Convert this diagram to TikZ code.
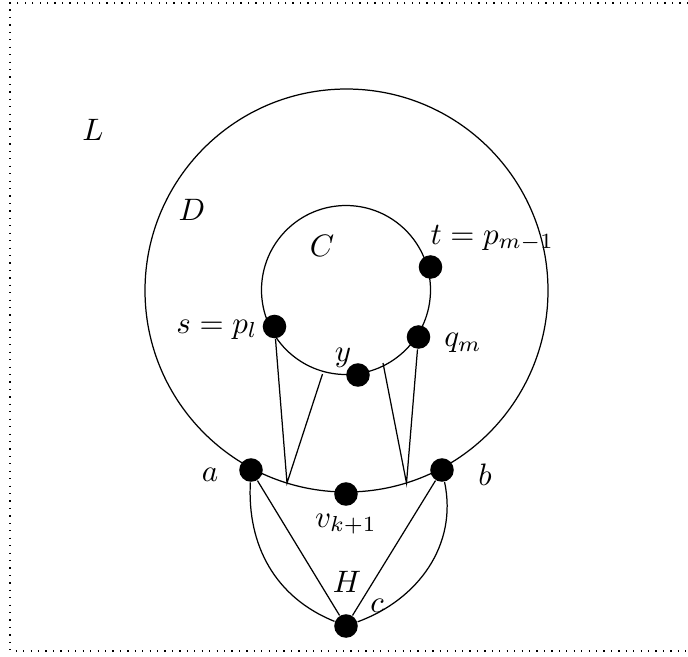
\documentclass[tikz,border=0pt]{standalone}
\begin{document}
\begin{tikzpicture}[x=0.3226pt,y=-0.3226pt,
  vtx/.style={circle,fill=black,inner sep=0pt,minimum size=7.6pt},
  lbl/.style={inner sep=0pt}]
\useasboundingbox (0,0) rectangle (688,656);
\draw[dotted] (688,3) -- (10,3) -- (10,651) -- (688,651);
% circles
\coordinate (oc) at (346.5,290.5);
\coordinate (ic) at (346,290);
\draw (oc) circle[radius=201.5];
\draw (ic) circle[radius=84.5];
% vertices
\node[vtx] (s) at (274.5,326.5) {};
\node[vtx] (t) at (430.5,267) {};
\node[vtx] (q) at (418.5,337) {};
\node[vtx] (y) at (358,375) {};
\node[vtx] (a) at (251,470) {};
\node[vtx] (b) at (442,470) {};
\node[vtx] (v) at (346,494) {};
\node[vtx] (c) at (346,626) {};
% free ends
\coordinate (p1) at (287,483);
\coordinate (p2) at (322.5,374);
\coordinate (p3) at (406.5,483);
\coordinate (p4) at (383,363);
\draw (s) -- (p1) -- (p2);
\draw (q) -- (p3) -- (p4);
\draw (a) -- (c);
\draw (b) -- (c);
\draw (a) to[out=-93,in=158] (c);
\draw (b) to[out=-78,in=20] (c);
% labels
\node[lbl] (lL) at (93,130) {$L$};
\node[lbl] (lD) at (192,210) {$D$};
\node[lbl] (lC) at (322,246) {$C$};
\node[lbl,anchor=base west] (lt) at (430,244) {$t=p_{m-1}$};
\node[lbl,anchor=base east] (ls) at (258,333) {$s=p_l$};
\node[lbl] (lq) at (463,343) {$q_m$};
\node[lbl] (ly) at (343,358) {$y$};
\node[lbl] (la) at (210,475) {$a$};
\node[lbl] (lb) at (485,475) {$b$};
\node[lbl] (lv) at (346,524) {$v_{k+1}$};
\node[lbl] (lH) at (347,582) {$H$};
\node[lbl] (lc) at (377,606) {$c$};
\end{tikzpicture}
\end{document}
